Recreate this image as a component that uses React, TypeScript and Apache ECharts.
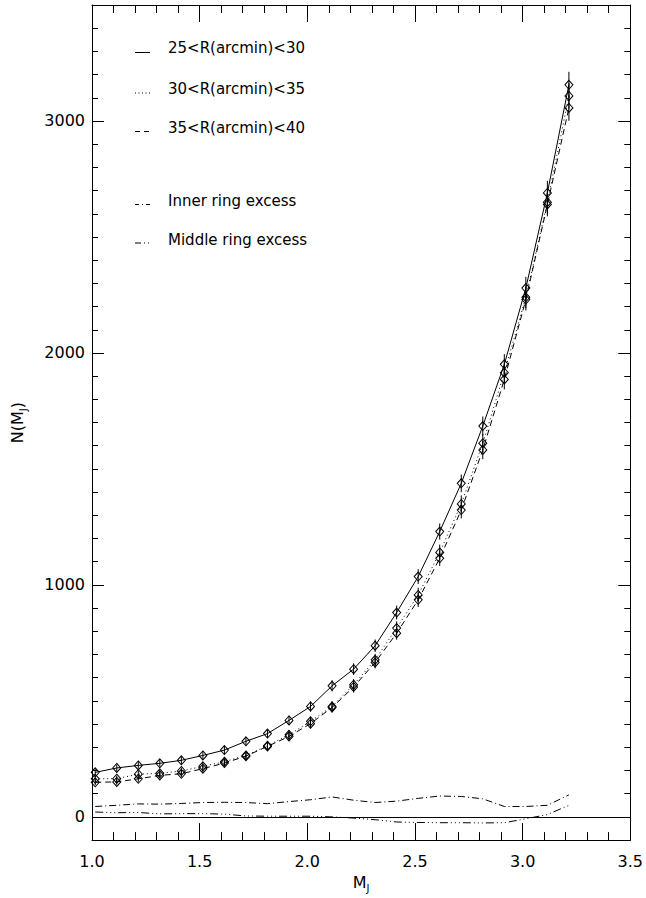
import React, { useEffect, useRef } from "react";
import * as echarts from "echarts";

// Absolute J magnitude bin centres
const mjValues = [
  1.015, 1.115, 1.215, 1.315, 1.415, 1.515, 1.615, 1.715, 1.815, 1.915, 2.015, 2.115,
  2.215, 2.315, 2.415, 2.515, 2.615, 2.715, 2.815, 2.915, 3.015, 3.115, 3.215,
];
// Counts per ring
const ring25to30 = [
  192, 211, 222, 231, 244, 265, 288, 326, 359, 416, 476, 565, 637, 738, 881, 1036, 1230,
  1438, 1685, 1951, 2280, 2690, 3156,
];
const ring30to35 = [
  164, 165, 184, 188, 198, 218, 238, 265, 307, 354, 412, 476, 570, 677, 814, 957, 1140,
  1349, 1611, 1915, 2240, 2650, 3108,
];
const ring35to40 = [
  149, 151, 164, 179, 186, 208, 232, 262, 304, 347, 402, 472, 560, 666, 792, 936, 1115,
  1323, 1582, 1886, 2230, 2640, 3056,
];
// Error bar half-lengths
const err25to30 = [14, 15, 15, 15, 16, 16, 17, 18, 19, 20, 22, 24, 25, 27, 30, 32, 35, 38, 41, 44, 48, 52, 56];
const err30to35 = [13, 13, 14, 14, 14, 15, 15, 16, 18, 19, 20, 22, 24, 26, 29, 31, 34, 37, 40, 44, 47, 51, 56];
const err35to40 = [12, 12, 13, 13, 14, 14, 15, 16, 17, 19, 20, 22, 24, 26, 28, 31, 33, 36, 40, 43, 47, 51, 55];
// Excess curves
const innerExcess = [45, 50, 56, 55, 58, 62, 63, 62, 57, 66, 74, 86, 72, 62, 68, 80, 90, 88, 78, 45, 45, 50, 95];
const middleExcess = [21, 18, 19, 13, 14, 14, 12, 4, 3, 3, 3, 0, -5, -12, -22, -24, -25, -25, -26, -25, -8, 10, 50];

const legendLabels = [
  "25<R(arcmin)<30",
  "30<R(arcmin)<35",
  "35<R(arcmin)<40",
  "Inner ring excess",
  "Middle ring excess",
];
const yMajorTicks = [0, 1000, 2000, 3000];

const FONT = "DejaVu Sans";
const INK = "#000";

const dashSolid: any = "solid";
const dashDotted = [1, 3];
const dashDashed = [6, 4];
const dashDashDot = [7, 3, 1, 3];
const dashDash3Dot = [8, 3, 1, 3, 1, 3, 1, 3];

function pts(vals: number[]) {
  return mjValues.map((x, i) => [x, vals[i]]);
}

function errSeries(vals: number[], errs: number[]) {
  return {
    type: "custom",
    xAxisIndex: 0,
    yAxisIndex: 0,
    silent: true,
    z: 4,
    encode: { x: 0, y: [1, 2] },
    data: mjValues.map((x, i) => [x, vals[i] - errs[i], vals[i] + errs[i]]),
    renderItem: (params: any, api: any) => {
      const p1 = api.coord([api.value(0), api.value(1)]);
      const p2 = api.coord([api.value(0), api.value(2)]);
      return {
        type: "line",
        shape: { x1: p1[0], y1: p1[1], x2: p2[0], y2: p2[1] },
        style: { stroke: INK, lineWidth: 1 },
      };
    },
  };
}

function lineSeries(name: string, vals: number[], dash: any, markers: boolean) {
  return {
    name,
    type: "line",
    xAxisIndex: 0,
    yAxisIndex: 0,
    data: pts(vals),
    symbol: markers ? "diamond" : "none",
    symbolSize: [8, 9],
    showSymbol: markers,
    itemStyle: { color: "rgba(255,255,255,0)", borderColor: INK, borderWidth: 1 },
    lineStyle: { color: INK, width: 1, type: dash },
    z: 3,
    silent: true,
  };
}

export default function App() {
  const ref = useRef<HTMLDivElement>(null);
  useEffect(() => {
    if (!ref.current) return;
    const chart = echarts.init(ref.current, null, { renderer: "svg" });

    const axisCommonX = {
      type: "value",
      min: 1,
      max: 3.5,
      interval: 0.5,
      axisLine: { show: true, onZero: false, lineStyle: { color: INK, width: 1 } },
      axisTick: { show: true, inside: true, length: 17, lineStyle: { color: INK, width: 1 } },
      minorTick: { show: true, splitNumber: 5, length: 8, lineStyle: { color: INK, width: 1 } },
      splitLine: { show: false },
    };
    const yMajorCommon = {
      type: "value",
      min: -100,
      max: 3500,
      interval: 100,
      axisLine: { show: true, onZero: false, lineStyle: { color: INK, width: 1 } },
      axisTick: { show: true, inside: true, length: 12, customValues: yMajorTicks, lineStyle: { color: INK, width: 1 } },
      splitLine: { show: false },
    };
    const yMinorCommon = {
      type: "value",
      min: -100,
      max: 3500,
      interval: 100,
      axisLine: { show: false },
      axisTick: { show: true, inside: true, length: 6, lineStyle: { color: INK, width: 1 } },
      axisLabel: { show: false },
      splitLine: { show: false },
    };

    const legendRows = [
      { y: 48, dash: null, lineY: 52.5 },
      { y: 89, dash: [1, 2.5], lineY: 93 },
      { y: 127.5, dash: [5, 4], lineY: 131.5 },
      { y: 201, dash: [4, 3, 1, 3, 4, 3], lineY: 204.5 },
      { y: 240, dash: [6, 3, 1, 3, 1, 6], lineY: 243 },
    ];
    const graphics: any[] = [];
    legendRows.forEach((r, i) => {
      graphics.push({
        type: "line",
        silent: true,
        shape: { x1: 135, y1: r.lineY, x2: 150, y2: r.lineY },
        style: { stroke: INK, lineWidth: 1, lineDash: r.dash || undefined },
      });
      graphics.push({
        type: "text",
        silent: true,
        x: 168,
        y: r.y,
        style: {
          text: legendLabels[i],
          fill: INK,
          font: `15px "${FONT}"`,
          textVerticalAlign: "middle",
          verticalAlign: "middle",
          align: "left",
        },
      });
    });

    const option: any = {
      animation: false,
      backgroundColor: "#fff",
      grid: { left: 92, right: 14, top: 5, bottom: 57, containLabel: false },
      xAxis: [
        {
          ...axisCommonX,
          position: "bottom",
          axisLabel: {
            show: true,
            formatter: (v: number) => v.toFixed(1),
            margin: 13,
            fontSize: 16,
            color: INK,
            fontFamily: FONT,
          },
          name: "{m|M}{s|J}",
          nameLocation: "middle",
          nameGap: 30,
          nameTextStyle: {
            rich: {
              m: { fontSize: 16, fontFamily: FONT, color: INK, lineHeight: 22 },
              s: { fontSize: 10, fontFamily: FONT, color: INK, lineHeight: 11, verticalAlign: "bottom" },
            },
          },
        },
        {
          ...axisCommonX,
          position: "top",
          axisLabel: { show: false },
        },
      ],
      yAxis: [
        {
          ...yMajorCommon,
          position: "left",
          axisLabel: {
            show: true,
            customValues: yMajorTicks,
            formatter: (v: number) => String(v),
            margin: 7,
            fontSize: 16,
            color: INK,
            fontFamily: FONT,
          },
          name: "{n|N(M}{s|J}{n|)}",
          nameLocation: "middle",
          nameGap: 64,
          nameRotate: 90,
          nameTextStyle: {
            rich: {
              n: { fontSize: 16, fontFamily: FONT, color: INK, lineHeight: 22 },
              s: { fontSize: 10, fontFamily: FONT, color: INK, lineHeight: 11, verticalAlign: "bottom" },
            },
          },
        },
        { ...yMinorCommon, position: "left" },
        { ...yMajorCommon, position: "right", axisLabel: { show: false } },
        { ...yMinorCommon, position: "right" },
      ],
      series: [
        {
          ...lineSeries(legendLabels[0], ring25to30, dashSolid, true),
          markLine: {
            silent: true,
            symbol: "none",
            label: { show: false },
            lineStyle: { color: INK, type: "solid", width: 1 },
            data: [{ yAxis: 0 }],
          },
        },
        lineSeries(legendLabels[1], ring30to35, dashDotted, true),
        lineSeries(legendLabels[2], ring35to40, dashDashed, true),
        lineSeries(legendLabels[3], innerExcess, dashDashDot, false),
        lineSeries(legendLabels[4], middleExcess, dashDash3Dot, false),
        errSeries(ring25to30, err25to30),
        errSeries(ring30to35, err30to35),
        errSeries(ring35to40, err35to40),
      ],
      graphic: graphics,
    };
    chart.setOption(option);
    return () => chart.dispose();
  }, []);

  return (
    <div
      ref={ref}
      style={{ position: "fixed", left: 0, top: 0, width: 646, height: 898, background: "#fff" }}
    />
  );
}
